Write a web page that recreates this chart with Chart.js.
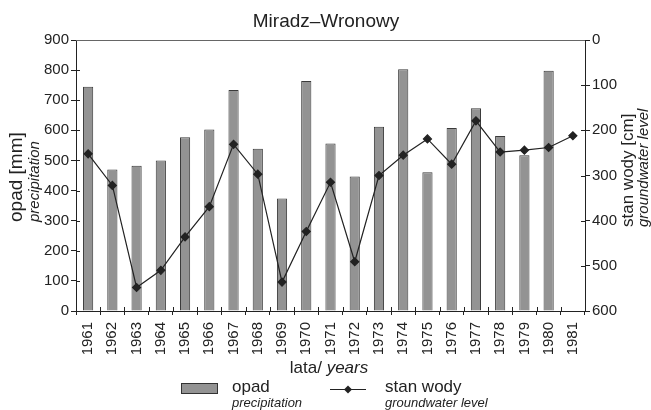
<!DOCTYPE html>
<html>
<head>
<meta charset="utf-8">
<script src="https://cdn.jsdelivr.net/npm/chart.js@4/dist/chart.umd.min.js"></script>
<style>
html,body{margin:0;padding:0;background:#fff;}
#wrap{width:651px;height:410px;}
</style>
</head>
<body>
<div id="wrap"><canvas id="c" width="651" height="410"></canvas></div>
<script>
const years = ['1961','1962','1963','1964','1965','1966','1967','1968','1969','1970','1971','1972','1973','1974','1975','1976','1977','1978','1979','1980','1981'];
const precipitation = [745,470,482,500,577,603,734,539,374,764,556,447,612,803,461,608,673,581,517,798,null];
const groundwater = [252,322,548,510,436,369,231,297,536,424,315,491,300,255,219,275,179,248,244,238,212];
const leftTicks = [0,100,200,300,400,500,600,700,800,900];
const rightTicks = [0,100,200,300,400,500,600];

const FONT = '"Liberation Sans", Arial, Helvetica, sans-serif';

const textPlugin = {
  id: 'texts',
  afterDraw(chart) {
    const ctx = chart.ctx;
    const ca = chart.chartArea;
    const sx = chart.scales.x, sy = chart.scales.y, sy1 = chart.scales.y1;
    ctx.save();
    // top frame line
    ctx.strokeStyle = '#666';
    ctx.lineWidth = 1;
    ctx.beginPath();
    ctx.moveTo(ca.left, Math.round(ca.top) + 0.5);
    ctx.lineTo(ca.right, Math.round(ca.top) + 0.5);
    ctx.stroke();

    // inner halves of the tick marks (ticks cross the axes)
    ctx.strokeStyle = '#222';
    ctx.beginPath();
    sy.ticks.forEach(t => {
      const p = Math.round(sy.getPixelForValue(t.value)) + 0.5;
      if (t.value === 0 || t.value === 900) return;
      ctx.moveTo(ca.left, p); ctx.lineTo(ca.left + 4, p);
    });
    sy1.ticks.forEach(t => {
      const p = Math.round(sy1.getPixelForValue(t.value)) + 0.5;
      if (t.value === 0 || t.value === 600) return;
      ctx.moveTo(ca.right, p); ctx.lineTo(ca.right - 4, p);
    });
    for (let i = 1; i < years.length; i++) {
      const p = Math.round((sx.getPixelForValue(i - 1) + sx.getPixelForValue(i)) / 2) + 0.5;
      ctx.moveTo(p, ca.bottom); ctx.lineTo(p, ca.bottom - 4);
    }
    ctx.stroke();

    ctx.fillStyle = '#222';
    // title
    ctx.font = '19px ' + FONT;
    ctx.textAlign = 'center';
    ctx.textBaseline = 'middle';
    ctx.fillText('Miradz–Wronowy', 326, 22);

    // left axis title
    ctx.save();
    ctx.translate(17, 222);
    ctx.rotate(-Math.PI / 2);
    ctx.textAlign = 'left';
    ctx.font = '19px ' + FONT;
    ctx.fillText('opad [mm]', 0, 0);
    ctx.font = 'italic 15px ' + FONT;
    ctx.fillText('precipitation', 0, 18);
    ctx.restore();

    // right axis title
    ctx.save();
    ctx.translate(628, 227);
    ctx.rotate(-Math.PI / 2);
    ctx.textAlign = 'left';
    ctx.font = '17px ' + FONT;
    ctx.fillText('stan wody [cm]', 0, 0);
    ctx.font = 'italic 15px ' + FONT;
    ctx.fillText('groundwater level', 0, 16);
    ctx.restore();

    // x axis title
    ctx.textAlign = 'left';
    ctx.font = '17px ' + FONT;
    const a = 'lata/ ';
    const wa = ctx.measureText(a).width;
    ctx.font = 'italic 17px ' + FONT;
    const wb = ctx.measureText('years').width;
    const x0 = 329 - (wa + wb) / 2;
    ctx.font = '17px ' + FONT;
    ctx.fillText(a, x0, 368);
    ctx.font = 'italic 17px ' + FONT;
    ctx.fillText('years', x0 + wa, 368);

    // legend
    ctx.fillStyle = '#939393';
    ctx.strokeStyle = '#333';
    ctx.fillRect(181, 383, 36, 10);
    ctx.strokeRect(181.5, 383.5, 36, 10);
    ctx.fillStyle = '#222';
    ctx.font = '17px ' + FONT;
    ctx.fillText('opad', 232, 387);
    ctx.font = 'italic 13px ' + FONT;
    ctx.fillText('precipitation', 232, 403);

    ctx.strokeStyle = '#222';
    ctx.beginPath();
    ctx.moveTo(330, 389.5);
    ctx.lineTo(366, 389.5);
    ctx.stroke();
    ctx.beginPath();
    ctx.moveTo(348, 385.5);
    ctx.lineTo(352, 389.5);
    ctx.lineTo(348, 393.5);
    ctx.lineTo(344, 389.5);
    ctx.closePath();
    ctx.fillStyle = '#222';
    ctx.fill();
    ctx.font = '17px ' + FONT;
    ctx.fillText('stan wody', 385, 387);
    ctx.font = 'italic 13px ' + FONT;
    ctx.fillText('groundwater level', 385, 403);
    ctx.restore();
  }
};

new Chart(document.getElementById('c'), {
  data: {
    labels: years,
    datasets: [
      {
        type: 'line',
        label: 'stan wody',
        data: groundwater,
        yAxisID: 'y1',
        borderColor: '#222',
        borderWidth: 1.2,
        pointStyle: 'rectRot',
        pointRadius: 4,
        pointBackgroundColor: '#222',
        pointBorderColor: '#222',
        tension: 0,
        order: 0
      },
      {
        type: 'bar',
        label: 'opad',
        data: precipitation,
        yAxisID: 'y',
        backgroundColor: '#939393',
        borderColor: '#3a3a3a',
        borderWidth: 1,
        barPercentage: 0.42,
        categoryPercentage: 1,
        order: 1
      }
    ]
  },
  options: {
    responsive: false,
    animation: false,
    devicePixelRatio: 1,
    layout: { autoPadding: false, padding: { top: 40, left: 0, right: 0, bottom: 0 } },
    plugins: { legend: { display: false }, tooltip: { enabled: false }, title: { display: false } },
    scales: {
      x: {
        offset: true,
        grid: { offset: true, drawOnChartArea: false, drawTicks: true, tickLength: 4, color: '#222' },
        border: { display: true, color: '#222', width: 1 },
        ticks: { minRotation: 90, maxRotation: 90, font: { family: FONT, size: 15 }, color: '#222', padding: 7, autoSkip: false },
        afterFit(s) { s.height = 99; }
      },
      y: {
        position: 'left',
        min: 0, max: 900,
        afterBuildTicks(s) { s.ticks = leftTicks.map(v => ({ value: v })); },
        grid: { drawOnChartArea: false, tickLength: 5, color: '#222' },
        border: { display: true, color: '#222', width: 1 },
        ticks: { font: { family: FONT, size: 15 }, color: '#222', padding: 2 },
        afterFit(s) { s.width = 76; }
      },
      y1: {
        position: 'right',
        reverse: true,
        min: 0, max: 600,
        afterBuildTicks(s) { s.ticks = rightTicks.map(v => ({ value: v })); },
        grid: { drawOnChartArea: false, tickLength: 5, color: '#222' },
        border: { display: true, color: '#222', width: 1 },
        ticks: { font: { family: FONT, size: 15 }, color: '#222', padding: 2 },
        afterFit(s) { s.width = 66; }
      }
    }
  },
  plugins: [textPlugin]
});
</script>
</body>
</html>
